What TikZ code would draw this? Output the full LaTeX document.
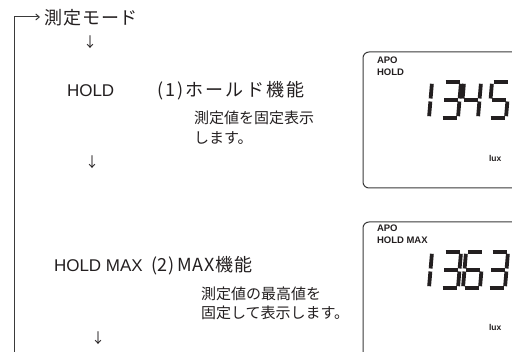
\documentclass[tikz,border=0pt]{standalone}
\usepackage{fontspec}
\setmainfont{Liberation Sans}
\newfontfamily\jp{Noto Sans CJK JP}
\newfontfamily\jpsemi[LetterSpace=4]{Noto Sans CJK JP}
\newfontfamily\jpmid[LetterSpace=12]{Noto Sans CJK JP}
\usetikzlibrary{arrows.meta}
\definecolor{ink}{HTML}{231F20}
\definecolor{rule}{HTML}{3A3A3A}
% seven-segment paths, cell width 17, height 36, slant 3
\def\lcdsega{(4.5,0) -- (18.5,0)}
\def\lcdsegb{(19.875,1.8) -- (18.625,16.5)}
\def\lcdsegc{(18.375,19.5) -- (17.125,34.2)}
\def\lcdsegd{(1.5,36) -- (15.5,36)}
\def\lcdsege{(1.375,19.5) -- (0.125,34.2)}
\def\lcdsegf{(2.875,1.8) -- (1.625,16.5)}
\def\lcdsegg{(3,18) -- (17,18)}
\newcommand\lcddigit[3]{%
  \begin{scope}[shift={(#1,#2)}]
    \foreach \sg in {#3}{\draw[lcdseg] \csname lcdseg\sg\endcsname;}
  \end{scope}}
\begin{document}
\begin{tikzpicture}[x=1pt,y=-1pt,
  every node/.style={inner sep=0pt,outer sep=0pt,text=ink},
  jphead/.style={font=\jpsemi\fontsize{18}{18}\selectfont,anchor=base west},
  jpfunc/.style={font=\jpmid\fontsize{18}{18}\selectfont,anchor=base west},
  jpdesc/.style={font=\jp\fontsize{15}{15}\selectfont,anchor=base west},
  modelabel/.style={font=\fontsize{17}{17}\selectfont,anchor=base west},
  downmark/.style={font=\jp\fontsize{14}{14}\selectfont,anchor=center},
  lcdtext/.style={font=\bfseries\fontsize{9.5}{9.5}\selectfont,anchor=west},
  luxtext/.style={font=\bfseries\fontsize{8.5}{8.5}\selectfont,anchor=west},
  lcdframe/.style={draw=rule,line width=1pt,rounded corners=6pt},
  lcdseg/.style={draw=ink,line width=3.8pt,line cap=butt},
  loopline/.style={draw=rule,line width=1pt,-{Straight Barb[length=3.5pt,width=6pt]}}]
\useasboundingbox (0,0) rectangle (512,352);
\clip (0,0) rectangle (512,352);

% left column
\node[jphead] (mode) at (45,25) {測定モード};
\node[downmark] (d1) at (90,42) {↓};
\node[modelabel] (hold) at (67,97) {HOLD};
\node[jpfunc] (f1) at (157,97) {(1)ホールド機能};
\node[jpdesc] (f1a) at (194,123.7) {測定値を固定表示};
\node[jpdesc] (f1b) at (194,143.7) {します。};
\node[downmark] (d2) at (92,162) {↓};
\node[modelabel] (holdmax) at (54,272) {HOLD MAX};
\node[jphead] (f2) at (151,272) {(2)\kern3pt MAX機能};
\node[jpdesc] (f2a) at (201,299.7) {測定値の最高値を};
\node[jpdesc] (f2b) at (201,318.7) {固定して表示します。};
\node[downmark] (d3) at (98,338) {↓};

% loop connector back to the start
\coordinate (loopstart) at (14,360);
\coordinate (loopcorner) at (14,17);
\draw[loopline,shorten >=5pt] (loopstart) -- (loopcorner) -- (mode.west |- loopcorner);

% LCD 1
\draw[lcdframe] (530,52) -- (363,52) -- (363,188) -- (530,188);
\node[lcdtext] (apo1) at (377,60) {APO};
\node[lcdtext] (hold1) at (377,72) {HOLD};
\lcddigit{412}{82}{b,c}
\lcddigit{441}{82}{a,b,c,d,g}
\lcddigit{461}{82}{f,g,b,c}
\lcddigit{489}{82}{a,f,g,c,d}
\node[luxtext] (lux1) at (489,158) {lux};

% LCD 2
\draw[lcdframe] (530,222) -- (363,222) -- (363,370);
\node[lcdtext] (apo2) at (377,228) {APO};
\node[lcdtext] (hold2) at (377,240) {HOLD MAX};
\lcddigit{412}{252}{b,c}
\lcddigit{441}{252}{a,b,c,d,g}
\lcddigit{463}{252}{a,f,g,e,c,d}
\lcddigit{488}{252}{a,b,c,d,g}
\node[luxtext] (lux2) at (489,327) {lux};
\end{tikzpicture}
\end{document}
